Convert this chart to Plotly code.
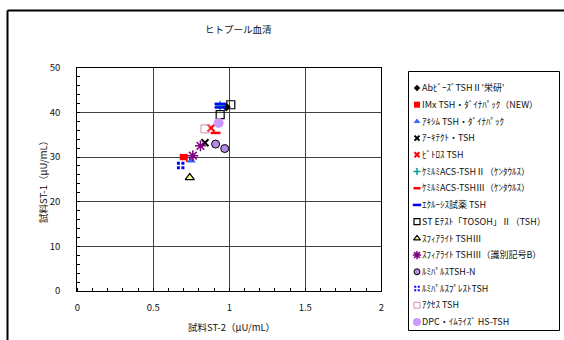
import plotly.graph_objects as go

W, H = 564, 340

# ---- data ----
series_names = [
    "AbﾋﾞｰｽﾞTSHⅡ'栄研'",
    "IMx TSH・ﾀﾞｲﾅﾊﾟｯｸ（NEW）",
    "ｱｷｼﾑ TSH・ﾀﾞｲﾅﾊﾟｯｸ",
    "ｱｰｷﾃｸﾄ・TSH",
    "ﾋﾞﾄﾛｽ TSH",
    "ｹﾐﾙﾐACS-TSHⅡ（ｹﾝﾀｳﾙｽ）",
    "ｹﾐﾙﾐACS-TSHⅢ（ｹﾝﾀｳﾙｽ）",
    "ｴｸﾙｰｼｽ試薬 TSH",
    "ST Eﾃｽﾄ「TOSOH」Ⅱ（TSH）",
    "ｽﾌｨｱﾗｲﾄ TSHⅢ",
    "ｽﾌｨｱﾗｲﾄ TSHⅢ（識別記号B）",
    "ﾙﾐﾊﾟﾙｽTSH-N",
    "ﾙﾐﾊﾟﾙｽﾌﾟﾚｽﾄTSH",
    "ｱｸｾｽ TSH",
    "DPC・ｲﾑﾗｲｽﾞ HS-TSH",
]
x_ab, y_ab = [0.98], [41.2]
x_imx, y_imx = [0.70], [29.8]
x_akishimu, y_akishimu = [0.75], [29.2]
x_architect, y_architect = [0.84], [33.2]
x_vitros, y_vitros = [0.88], [36.5]
x_kemi2, y_kemi2 = [0.94], [41.5]
x_kemi3, y_kemi3 = [0.91], [35.4]
x_eclusys, y_eclusys = [0.94, 0.94], [41.9, 41.1]
x_ste, y_ste = [1.01, 0.94], [41.7, 39.5]
x_sphi, y_sphi = [0.74], [25.4]
x_sphib, y_sphib = [0.81, 0.76], [32.5, 30.3]
x_lumin, y_lumin = [0.91, 0.97], [32.9, 31.9]
x_presto, y_presto = [0.68], [28.1]
x_access, y_access = [0.84], [36.3]
x_dpc, y_dpc = [0.93], [37.6]

x_data = [x_ab, x_imx, x_akishimu, x_architect, x_vitros, x_kemi2, x_kemi3,
          x_eclusys, x_ste, x_sphi, x_sphib, x_lumin, x_presto, x_access, x_dpc]
y_data = [y_ab, y_imx, y_akishimu, y_architect, y_vitros, y_kemi2, y_kemi3,
          y_eclusys, y_ste, y_sphi, y_sphib, y_lumin, y_presto, y_access, y_dpc]

x_ticks = [0, 0.5, 1, 1.5, 2]
y_ticks = [0, 10, 20, 30, 40, 50]

# ---- styles ----
styles = [
    dict(symbol="diamond", size=7, color="black", line=dict(width=0)),
    dict(symbol="square", size=8, color="#FF0000", line=dict(width=0)),
    dict(symbol="triangle-up", size=8, color="#3366FF", line=dict(width=0)),
    dict(symbol="x-thin", size=7, color="black", line=dict(width=2, color="black")),
    dict(symbol="x-thin", size=7, color="#FF0000", line=dict(width=2, color="#FF0000")),
    dict(symbol="cross-thin", size=7, color="#00A0A0", line=dict(width=1.5, color="#00A0A0")),
    dict(symbol="line-ew", size=7, color="#FF0000", line=dict(width=2.5, color="#FF0000")),
    dict(symbol="line-ew", size=8, color="#0000FF", line=dict(width=2.5, color="#0000FF")),
    dict(symbol="square-open", size=8, color="black", line=dict(width=1.2, color="black")),
    dict(symbol="triangle-up", size=8, color="#FFFF99", line=dict(width=1.2, color="black")),
    dict(symbol="asterisk-open", size=9, color="#800080", line=dict(width=1.5, color="#800080")),
    dict(symbol="circle", size=8, color="#B48CE6", line=dict(width=1, color="black")),
    dict(symbol="square-cross", size=9, color="#0000FF", line=dict(width=1.5, color="white")),
    dict(symbol="square-open", size=8, color="#D98CB3", line=dict(width=1, color="#D98CB3")),
    dict(symbol="circle", size=10, color="#CC99FF", line=dict(width=0)),
]

FONT = "Noto Sans CJK JP, Liberation Sans, Arial, sans-serif"

fig = go.Figure()
for name, xs, ys, st in zip(series_names, x_data, y_data, styles):
    fig.add_trace(go.Scatter(x=xs, y=ys, mode="markers", name=name, marker=st,
                             showlegend=False, cliponaxis=False))

# legend drawn on its own small axis, one category per series
for i, (name, st) in enumerate(zip(series_names, styles)):
    lst = dict(st)
    lst["size"] = max(5, st["size"] - 2)
    fig.add_trace(go.Scatter(x=[0], y=[name], mode="markers", marker=lst,
                             xaxis="x2", yaxis="y2", showlegend=False,
                             hoverinfo="skip", cliponaxis=False))

def px_x(p):
    return p / W

def px_y(p):
    return 1 - p / H

fig.update_layout(
    width=W, height=H,
    margin=dict(l=0, r=0, t=0, b=0),
    paper_bgcolor="white", plot_bgcolor="white",
    font=dict(family=FONT, size=9, color="#111"),
    showlegend=False,
    xaxis=dict(domain=[px_x(77.3), px_x(381.3)], range=[0, 2], tickvals=x_ticks,
               ticktext=[str(v) for v in x_ticks], showline=True, linecolor="black",
               linewidth=1, mirror=True, showgrid=True, gridcolor="#404040", gridwidth=1,
               zeroline=False, ticks="", ticklen=0, automargin=False,
               ticklabelstandoff=8,
               tickfont=dict(size=9.5, family=FONT, color="#111"),
               minor=dict(dtick=0.1, ticks="inside", ticklen=3, tickcolor="black",
                          showgrid=False)),
    yaxis=dict(domain=[px_y(291), px_y(67.7)], range=[0, 50], tickvals=y_ticks,
               showline=True, linecolor="black", linewidth=1, mirror=True,
               showgrid=True, gridcolor="#404040", gridwidth=1, zeroline=False,
               ticks="", automargin=False, ticklabelstandoff=14,
               tickfont=dict(size=9.5, family=FONT, color="#111"),
               minor=dict(dtick=2, ticks="inside", ticklen=3, tickcolor="black",
                          showgrid=False)),
    xaxis2=dict(domain=[px_x(411), px_x(423)], range=[-1, 1], anchor="y2",
                visible=False, fixedrange=True),
    yaxis2=dict(domain=[px_y(330.3), px_y(79.6)], anchor="x2", side="right",
                type="category", categoryorder="array", categoryarray=series_names,
                range=[len(series_names) - 0.5, -0.5], showline=False, showgrid=False,
                zeroline=False, ticks="", ticklabelstandoff=-2, automargin=False,
                tickfont=dict(size=9, family=FONT, color="#111"), fixedrange=True),
    shapes=[
        dict(type="line", xref="paper", yref="paper", x0=px_x(7.5), y0=px_y(10.5),
             x1=1.0, y1=px_y(10.5), line=dict(color="black", width=2)),
        dict(type="line", xref="paper", yref="paper", x0=px_x(7.5), y0=px_y(10.5),
             x1=px_x(7.5), y1=0.0, line=dict(color="black", width=2)),
        dict(type="rect", xref="paper", yref="paper", x0=px_x(408.5), y0=px_y(71.5),
             x1=px_x(559.5), y1=px_y(330.5), line=dict(color="black", width=1)),
    ],
    annotations=[
        dict(text="ヒトプール血清", xref="paper", yref="paper", x=px_x(239), y=px_y(29),
             xanchor="center", yanchor="middle",
             showarrow=False, font=dict(size=9.5, family=FONT, color="#111")),
        dict(text="試料ST-2（μU/mL）", xref="paper", yref="paper", x=px_x(231), y=px_y(327),
             xanchor="center", yanchor="middle",
             showarrow=False, font=dict(size=9.5, family=FONT, color="#111")),
        dict(text="試料ST-1（μU/mL）", xref="paper", yref="paper", x=px_x(43), y=px_y(180),
             xanchor="center", yanchor="middle",
             showarrow=False, textangle=-90, font=dict(size=9.5, family=FONT, color="#111")),
    ],
)

fig.write_html(
    "out.html",
    config={"displayModeBar": False, "staticPlot": True},
    post_script="document.body.style.margin='0';document.body.style.padding='0';"
                "document.body.style.overflow='hidden';",
)
